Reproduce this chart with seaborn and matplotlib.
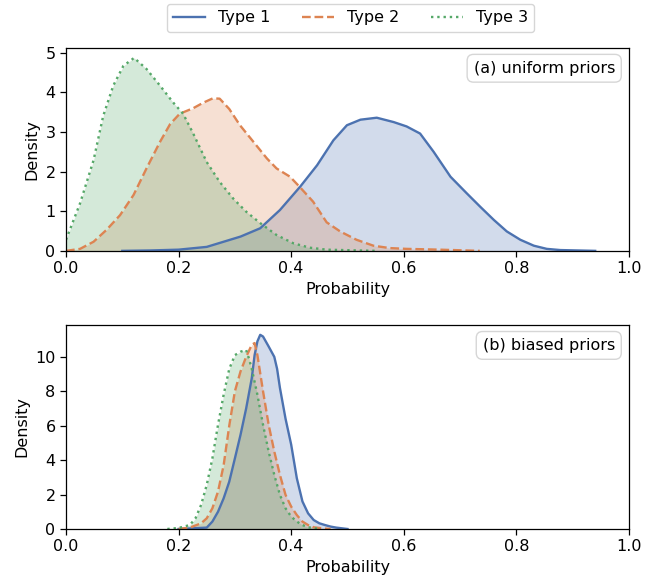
import numpy as np
import pandas as pd
import matplotlib
matplotlib.use("Agg")
import matplotlib.pyplot as plt
import seaborn as sns

plt.rcParams.update({
    "font.size": 11.5,
    "axes.linewidth": 0.9,
    "xtick.major.size": 4,
    "ytick.major.size": 4,
    "xtick.major.width": 0.9,
    "ytick.major.width": 0.9,
})

types = ["Type 1", "Type 2", "Type 3"]
colors = sns.color_palette("deep", 3)

# (a) uniform priors - density curves
a_x1 = [0.10, 0.15, 0.20, 0.25, 0.28, 0.31, 0.345, 0.38, 0.416, 0.446, 0.475, 0.499, 0.523, 0.552,
        0.582, 0.605, 0.629, 0.653, 0.683, 0.712, 0.736, 0.76, 0.783, 0.807, 0.831, 0.854, 0.878, 0.94]
a_y1 = [0.00, 0.01, 0.03, 0.10, 0.23, 0.36, 0.57, 1.03, 1.62, 2.16, 2.79, 3.17, 3.31, 3.36,
        3.25, 3.14, 2.96, 2.50, 1.87, 1.45, 1.11, 0.78, 0.49, 0.28, 0.13, 0.05, 0.02, 0.00]
a_x2 = [0.00, 0.025, 0.049, 0.072, 0.096, 0.12, 0.143, 0.167, 0.185, 0.202, 0.226, 0.244, 0.261,
        0.273, 0.29, 0.309, 0.333, 0.357, 0.374, 0.398, 0.416, 0.439, 0.463, 0.487, 0.516, 0.546,
        0.575, 0.605, 0.664, 0.735]
a_y2 = [0.00, 0.05, 0.23, 0.53, 0.90, 1.41, 2.08, 2.75, 3.20, 3.46, 3.60, 3.74, 3.85,
        3.84, 3.58, 3.17, 2.75, 2.33, 2.08, 1.87, 1.60, 1.24, 0.72, 0.49, 0.28, 0.13,
        0.07, 0.05, 0.03, 0.00]
a_x3 = [0.00, 0.025, 0.049, 0.066, 0.084, 0.102, 0.121, 0.143, 0.167, 0.19, 0.208, 0.226, 0.25,
        0.273, 0.297, 0.32, 0.345, 0.374, 0.404, 0.433, 0.463, 0.55]
a_y3 = [0.28, 1.20, 2.29, 3.40, 4.17, 4.67, 4.87, 4.59, 4.17, 3.75, 3.46, 2.96, 2.24,
        1.74, 1.32, 0.99, 0.70, 0.40, 0.19, 0.08, 0.03, 0.00]

# (b) biased priors
b_x1 = [0.20, 0.25, 0.26, 0.27, 0.28, 0.29, 0.30, 0.31, 0.32, 0.33, 0.335, 0.34, 0.345, 0.35,
        0.36, 0.37, 0.375, 0.38, 0.39, 0.40, 0.41, 0.42, 0.43, 0.44, 0.45, 0.46, 0.47, 0.48, 0.50]
b_y1 = [0.00, 0.08, 0.43, 1.00, 1.78, 2.75, 4.10, 5.47, 7.00, 8.76, 10.1, 10.9, 11.28, 11.18,
        10.6, 10.0, 9.3, 8.2, 6.4, 4.9, 2.95, 1.60, 0.91, 0.52, 0.33, 0.23, 0.14, 0.08, 0.00]
b_x2 = [0.20, 0.22, 0.24, 0.25, 0.26, 0.27, 0.28, 0.29, 0.30, 0.31, 0.32, 0.33, 0.335, 0.34,
        0.35, 0.36, 0.37, 0.38, 0.39, 0.40, 0.41, 0.42, 0.43, 0.44, 0.46, 0.47]
b_y2 = [0.00, 0.08, 0.33, 0.62, 1.20, 2.17, 3.70, 6.00, 8.00, 9.15, 10.0, 10.7, 10.8, 10.1,
        8.00, 6.05, 4.50, 3.14, 1.98, 1.30, 0.81, 0.43, 0.23, 0.10, 0.02, 0.00]
b_x3 = [0.18, 0.20, 0.22, 0.23, 0.24, 0.25, 0.26, 0.27, 0.28, 0.29, 0.30, 0.31, 0.32, 0.325,
        0.33, 0.34, 0.35, 0.36, 0.37, 0.38, 0.39, 0.40, 0.41, 0.42, 0.43, 0.45]
b_y3 = [0.00, 0.06, 0.23, 0.62, 1.40, 2.56, 4.10, 6.05, 7.80, 9.30, 10.1, 10.3, 10.4, 9.9,
        9.30, 7.80, 6.05, 4.50, 3.14, 1.98, 1.20, 0.72, 0.43, 0.23, 0.10, 0.00]

panels = [
    ("(a) uniform priors", [(a_x1, a_y1), (a_x2, a_y2), (a_x3, a_y3)]),
    ("(b) biased priors", [(b_x1, b_y1), (b_x2, b_y2), (b_x3, b_y3)]),
]

dashes = {"Type 1": "", "Type 2": (3.7, 1.6), "Type 3": (1, 1.65)}

fig = plt.figure(figsize=(6.56, 5.78), dpi=100)
ax1 = fig.add_axes([0.1006, 0.566, 0.8582, 0.351])
ax2 = fig.add_axes([0.1006, 0.0848, 0.8582, 0.3529])

for ax, (title, curves) in zip([ax1, ax2], panels):
    frames = []
    for name, (xs, ys) in zip(types, curves):
        frames.append(pd.DataFrame({"x": xs, "density": ys, "type": name}))
    df = pd.concat(frames, ignore_index=True)
    sns.lineplot(data=df, x="x", y="density", hue="type", style="type",
                 palette=colors, dashes=dashes, sort=False, lw=1.7,
                 estimator=None, ax=ax)
    for name, c in zip(types, colors):
        sub = df[df["type"] == name]
        ax.fill_between(sub["x"], sub["density"], color=c, alpha=0.25, lw=0)
    ax.set_xlim(0, 1)
    ax.set_xticks([0, 0.2, 0.4, 0.6, 0.8, 1.0])
    ax.set_xlabel("Probability")
    ax.set_ylabel("Density")
    ax.text(0.975, 0.9, title, transform=ax.transAxes, ha="right", va="center",
            bbox=dict(boxstyle="round,pad=0.4", fc="white", ec="0.8", alpha=0.8))

ax1.set_ylim(0, 5.12)
ax2.set_ylim(0, 11.85)
ax2.set_yticks([0, 2, 4, 6, 8, 10])

handles, labels = ax1.get_legend_handles_labels()
ax1.get_legend().remove()
ax2.get_legend().remove()
fig.legend(handles, labels, loc="upper center", ncol=3,
           bbox_to_anchor=(0.534, 1.0), borderaxespad=0.25,
           frameon=True, columnspacing=2.0)

plt.savefig("out.png", dpi=100)
